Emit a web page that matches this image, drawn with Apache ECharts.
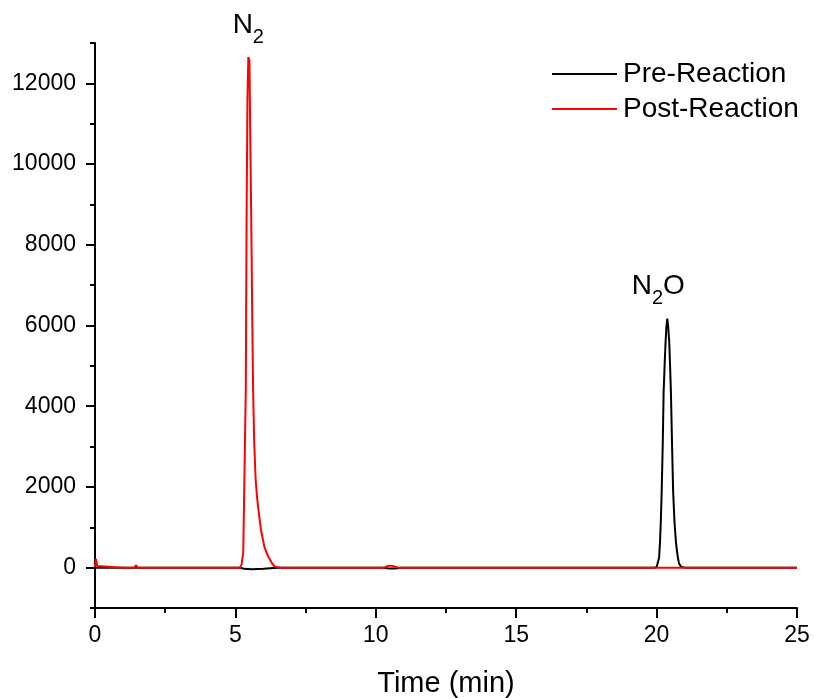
<!DOCTYPE html>
<html>
<head>
<meta charset="utf-8">
<script src="https://cdn.jsdelivr.net/npm/echarts@6/dist/echarts.min.js"></script>
<style>
html,body{margin:0;padding:0;background:#fff;}
#chart{width:814px;height:698px;}
</style>
</head>
<body>
<div id="chart"></div>
<script>
// ---- data ----
const seriesNames = ['Pre-Reaction', 'Post-Reaction'];
const peakLabels = ['N2', 'N2O'];

// [time (min), signal]
const preReaction = [
  [0, 0], [1.0, 0], [3.0, 0], [5.2, 0], [5.3, -30], [5.6, -40], [6.0, -30], [6.5, 0],
  [10.3, 0], [10.45, -20], [10.7, -20], [10.9, 0],
  [19.9, 0], [20.0, 10], [20.06, 30], [20.09, 250], [20.12, 620], [20.15, 1150],
  [20.18, 1860], [20.22, 3100], [20.25, 4340], [20.29, 5100], [20.32, 5590],
  [20.35, 5980], [20.38, 6170], [20.41, 6000], [20.45, 5590], [20.48, 5000],
  [20.51, 4340], [20.55, 3050], [20.59, 1860], [20.64, 1100], [20.69, 620],
  [20.75, 280], [20.8, 100], [20.87, 20], [21.0, 0], [25, 0]
];

const postReaction = [
  [0, 20], [0.03, 220], [0.08, 40], [0.15, 0], [1.0, 0], [1.4, 0], [1.46, 60], [1.52, 0],
  [3.0, 0], [5.0, 0], [5.16, 0], [5.22, 75], [5.28, 370], [5.32, 2190], [5.37, 4420],
  [5.40, 8890], [5.43, 11630], [5.46, 12650], [5.50, 12570], [5.53, 10630],
  [5.56, 8890], [5.60, 6200], [5.63, 4420], [5.67, 3100], [5.72, 2190], [5.77, 1750],
  [5.82, 1440], [5.91, 940], [6.03, 520], [6.13, 330], [6.23, 200], [6.32, 90],
  [6.41, 25], [6.6, 0], [10.3, 0], [10.45, 50], [10.6, 40], [10.8, 0], [25, 0]
];

const xTickValues = [0, 5, 10, 15, 20, 25];
const yMajorTicks = [0, 2000, 4000, 6000, 8000, 10000, 12000];
const yMinorTicks = [-1000, 1000, 3000, 5000, 7000, 9000, 11000, 13000];

// ---- helpers ----
function peakOf(arr) {
  let best = arr[0];
  arr.forEach(p => { if (p[1] > best[1]) best = p; });
  return best;
}
function richName(s) {
  return s.replace(/(\d)/g, '}{s|$1}{n|').replace(/^/, '{n|') + '}';
}

const FONT = '"Liberation Sans", Arial, sans-serif';
const richStyle = {
  n: { fontSize: 28, fontFamily: FONT, color: '#000', lineHeight: 28, verticalAlign: 'top' },
  s: { fontSize: 20, fontFamily: FONT, color: '#000', lineHeight: 20, verticalAlign: 'top', padding: [16, 0, 0, 0] }
};

const chart = echarts.init(document.getElementById('chart'), null, { renderer: 'canvas' });

const option = {
  backgroundColor: '#fff',
  animation: false,
  textStyle: { fontFamily: FONT },
  grid: { left: 95, right: 17, top: 43, bottom: 90, containLabel: false, outerBoundsMode: 'none' },
  legend: {
    data: seriesNames,
    orient: 'vertical',
    left: 547,
    top: 55,
    itemWidth: 65,
    itemHeight: 14,
    itemGap: 7,
    icon: 'path://M0,6 L65,6 L65,8 L0,8 Z',
    textStyle: { fontSize: 28, fontFamily: FONT, color: '#000', padding: [0, 0, 0, 1], lineHeight: 28 }
  },
  xAxis: {
    type: 'value',
    min: 0, max: 25, interval: 5,
    name: 'Time (min)',
    nameLocation: 'middle',
    nameGap: 61,
    nameTextStyle: { fontSize: 29, fontFamily: FONT, color: '#000' },
    axisLine: { show: true, onZero: false, lineStyle: { color: '#000', width: 2 } },
    axisTick: { show: true, inside: false, length: 10, lineStyle: { color: '#000', width: 2 } },
    minorTick: { show: true, splitNumber: 2, length: 5, lineStyle: { color: '#000', width: 2 } },
    axisLabel: {
      fontSize: 23, fontFamily: FONT, color: '#000', margin: 16,
      customValues: xTickValues,
      formatter: v => String(v)
    },
    splitLine: { show: false }
  },
  yAxis: [{
    type: 'value',
    min: -1000, max: 13000, interval: 1000,
    position: 'left',
    axisLine: { show: true, onZero: false, lineStyle: { color: '#000', width: 2 } },
    axisTick: { show: true, inside: false, length: 9, customValues: yMajorTicks, lineStyle: { color: '#000', width: 2 } },
    axisLabel: {
      fontSize: 23, fontFamily: FONT, color: '#000', margin: 19,
      customValues: yMajorTicks,
      formatter: v => String(v)
    },
    splitLine: { show: false }
  }, {
    type: 'value',
    min: -1000, max: 13000, interval: 1000,
    position: 'left',
    axisLine: { show: false },
    axisTick: { show: true, inside: false, length: 5, customValues: yMinorTicks, lineStyle: { color: '#000', width: 2 } },
    axisLabel: { show: false },
    splitLine: { show: false }
  }],
  series: [{
    name: seriesNames[0],
    type: 'line',
    data: preReaction,
    yAxisIndex: 0,
    symbol: 'none',
    showSymbol: false,
    lineStyle: { color: '#000', width: 2 },
    itemStyle: { color: '#000' },
    z: 2,
    markPoint: {
      symbol: 'circle', symbolSize: 0,
      data: [{ coord: peakOf(preReaction), value: peakLabels[1] }],
      label: {
        show: true, position: 'top', distance: 18, offset: [-9, 0],
        formatter: () => richName(peakLabels[1]),
        rich: richStyle
      }
    }
  }, {
    name: seriesNames[1],
    type: 'line',
    data: postReaction,
    yAxisIndex: 0,
    symbol: 'none',
    showSymbol: false,
    lineStyle: { color: '#ff0000', width: 2 },
    itemStyle: { color: '#ff0000' },
    z: 3,
    markPoint: {
      symbol: 'circle', symbolSize: 0,
      data: [{ coord: peakOf(postReaction), value: peakLabels[0] }],
      label: {
        show: true, position: 'top', distance: 18, offset: [0, 0],
        formatter: () => richName(peakLabels[0]),
        rich: richStyle
      }
    }
  }]
};

chart.setOption(option);
</script>
</body>
</html>
